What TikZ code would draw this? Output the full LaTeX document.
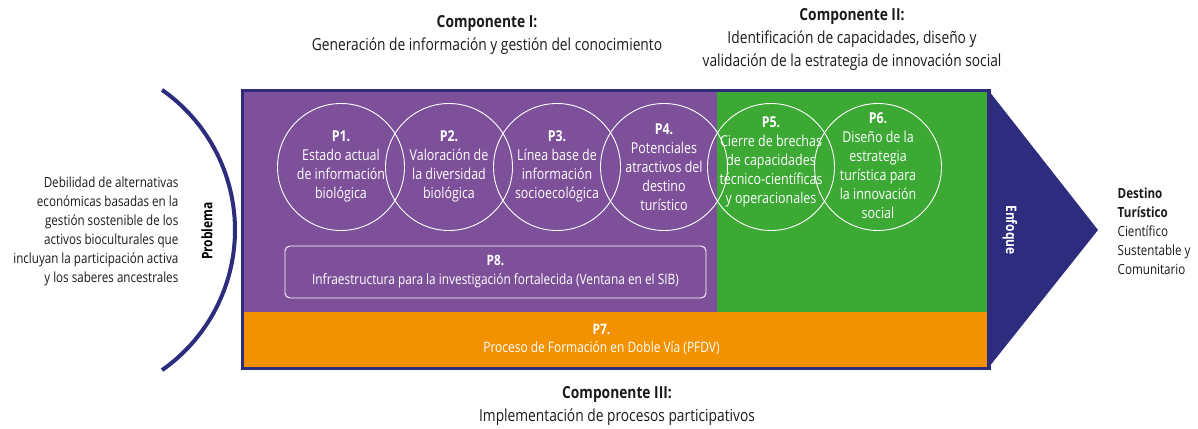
\documentclass[tikz,border=0pt]{standalone}
\usepackage{fontspec}
\setmainfont[FakeStretch=0.83]{Open Sans}
\definecolor{navy}{HTML}{2E2C7E}
\definecolor{purp}{HTML}{7E509A}
\definecolor{grn}{HTML}{3CA935}
\definecolor{orng}{HTML}{F39200}
\definecolor{ink}{HTML}{1A1A1A}
\begin{document}
\begin{tikzpicture}[x=1pt,y=-1pt,
  txt/.style={font=\fontsize{14}{19}\selectfont, align=center, inner sep=0pt},
  ctxt/.style={font=\fontsize{15}{19}\selectfont, align=center, inner sep=0pt, text=white},
  head/.style={font=\fontsize{16.6}{23}\selectfont, align=center, inner sep=0pt, text=ink},
  ring/.style={draw=white, line width=0.9pt}]
\useasboundingbox (0,0) rectangle (1198,428);
% colour fields
\fill[purp] (243,91) rectangle (717,312);
\fill[grn] (717,91) rectangle (988,312);
\fill[orng] (243,312) rectangle (988,367);
\draw[navy, line width=3pt] (242,90) rectangle (989,368);
\fill[navy] (987,88.5) -- (1098,230) -- (987,369.5) -- cycle;
% arc
\draw[navy, line width=4pt] (64,230) ++(-55:171) arc (-55:55:171);
% circles
\foreach \cx in {341,449,557,664,771,878} \draw[ring] (\cx,167) circle (63.5);
% circle texts
\node[ctxt] (p1) at (341,166) {\textbf{P1.}\\Estado actual\\de información\\biológica};
\node[ctxt] (p2) at (449,166) {\textbf{P2.}\\Valoración de\\la diversidad\\biológica};
\node[ctxt] (p3) at (557,166) {\textbf{P3.}\\Línea base de\\información\\socioecológica};
\node[ctxt] (p4) at (664,167) {\textbf{P4.}\\Potenciales\\atractivos del\\destino\\turístico};
\node[ctxt] (p5) at (771,162) {\textbf{P5.}\\Cierre de brechas\\de capacidades\\técnico-científicas\\y operacionales};
\node[ctxt] (p6) at (878,166) {\textbf{P6.}\\Diseño de la\\estrategia\\turística para\\la innovación\\social};
% P8
\draw[white, line width=0.9pt, rounded corners=5pt] (285,246) rectangle (706,298);
\node[ctxt, font=\fontsize{14.3}{19}\selectfont] (p8) at (495.5,272) {\textbf{P8.}\\Infraestructura para la investigación fortalecida (Ventana en el SIB)};
% P7
\node[ctxt, font=\fontsize{14.4}{18.5}\selectfont] (p7) at (601.5,339.5) {\textbf{P7.}\\Proceso de Formación en Doble Vía (PFDV)};
% side labels
\node[txt, font=\bfseries\fontsize{14.5}{19}\selectfont, rotate=90] (prob) at (207,231) {Problema};
\node[txt, text=white, font=\bfseries\fontsize{14.5}{19}\selectfont, rotate=-90] (enf) at (1010,230) {Enfoque};
\node[txt, align=right, anchor=east, text=ink] (left) at (178.5,231) {Debilidad de alternativas\\económicas basadas en la\\gestión sostenible de los\\activos bioculturales que\\incluyan la participación activa\\y los saberes ancestrales};
\node[txt, align=left, anchor=west, text=ink] (dest) at (1117.5,231) {\textbf{Destino}\\\textbf{Turístico}\\Científico\\Sustentable y\\Comunitario};
% headers
\node[head] (c1) at (487,34.5) {\textbf{Componente I:}\\Generación de información y gestión del conocimiento};
\node[head] (c2) at (852,39.5) {\textbf{Componente II:}\\Identificación de capacidades, diseño y\\validación de la estrategia de innovación social};
\node[head] (c3) at (617,406) {\textbf{Componente III:}\\Implementación de procesos participativos};
\end{tikzpicture}
\end{document}
